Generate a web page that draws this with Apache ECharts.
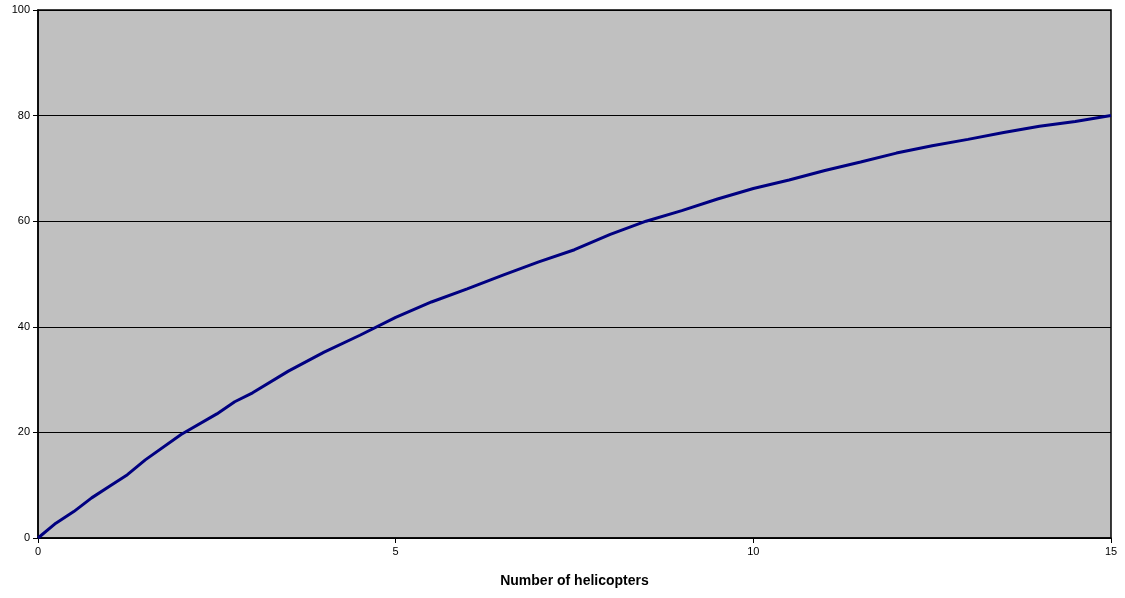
<!DOCTYPE html>
<html><head><meta charset="utf-8">
<script src="https://cdn.jsdelivr.net/npm/echarts@6/dist/echarts.min.js"></script>
<style>html,body{margin:0;padding:0;background:#fff}#c{width:1125px;height:598px}</style>
</head><body><div id="c"></div>
<script>
const helicopters = [0,0.25,0.5,0.75,1,1.25,1.5,2,2.5,2.75,3,3.5,4,4.5,5,5.5,6,6.5,7,7.5,8,8.5,9,9.5,10,10.5,11,11.5,12,12.5,13,13.5,14,14.5,15];
const values = [0,2.8,5,7.6,9.8,12,14.8,19.6,23.5,25.8,27.5,31.6,35.2,38.4,41.8,44.7,47.2,49.8,52.3,54.6,57.5,60,62,64.2,66.2,67.8,69.6,71.2,72.9,74.3,75.5,76.8,78,78.9,80];
const xName = 'Number of helicopters';
const chart = echarts.init(document.getElementById('c'));
chart.setOption({
  animation:false,
  grid:{left:38,right:14,top:10,bottom:60,show:true,backgroundColor:'#C0C0C0',borderColor:'#000',borderWidth:1.5},
  xAxis:{type:'value',min:0,max:15,interval:5,name:xName,nameLocation:'middle',nameGap:36,
    nameTextStyle:{fontFamily:'Liberation Sans',fontWeight:'bold',fontSize:14,color:'#000'},
    axisLine:{show:true,lineStyle:{color:'#000',width:1.5}},axisTick:{show:true,length:5,lineStyle:{color:'#000'}},
    axisLabel:{fontFamily:'Liberation Sans',fontSize:11,color:'#000',margin:8},splitLine:{show:false}},
  yAxis:{type:'value',min:0,max:100,interval:20,
    axisLine:{show:true,lineStyle:{color:'#000',width:1.5}},axisTick:{show:true,length:5,lineStyle:{color:'#000'}},
    axisLabel:{fontFamily:'Liberation Sans',fontSize:11,color:'#000',margin:8},
    splitLine:{show:true,lineStyle:{color:'#000',width:1.2}}},
  series:[{type:'line',data:helicopters.map((x,i)=>[x,values[i]]),showSymbol:false,
    lineStyle:{color:'#000080',width:3},smooth:false}]
});
</script></body></html>
